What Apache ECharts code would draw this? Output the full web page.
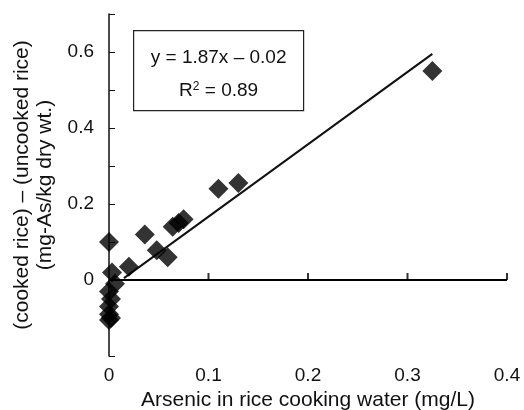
<!DOCTYPE html>
<html>
<head>
<meta charset="utf-8">
<script src="https://cdn.jsdelivr.net/npm/echarts@6/dist/echarts.min.js"></script>
<style>
  html, body { margin: 0; padding: 0; background: #fff; }
  #chart { width: 524px; height: 410px; }
</style>
</head>
<body>
<div id="chart"></div>
<script>
// arsenic in cooking water (mg/L)
const waterAs = [0, 0.003, 0.006, 0, 0.002, 0, 0, 0.002, 0, 0.02, 0.036, 0.048, 0.059, 0.064, 0.07, 0.075, 0.11, 0.13, 0.325];
// (cooked rice) - (uncooked rice), mg-As/kg dry wt.
const riceDiff = [0.1, 0.02, -0.01, -0.03, -0.05, -0.07, -0.09, -0.1, -0.105, 0.035, 0.12, 0.078, 0.06, 0.14, 0.15, 0.16, 0.24, 0.255, 0.55];
// regression line end points
const fitX = [0.015, 0.325];
const fitY = [0.005, 0.595];
const xTicks = [0, 0.1, 0.2, 0.3, 0.4];
const yLabels = ["0", "0.2", "0.4", "0.6"];
const eqText = "y = 1.87x \u2013 0.02";
const r2Text = "0.89";

const font = "Liberation Sans";
const chart = echarts.init(document.getElementById("chart"));

const points = waterAs.map((x, i) => [x, riceDiff[i]]);
const fitLine = fitX.map((x, i) => [x, fitY[i]]);
// the x axis line runs along y = 0
const zeroLine = xTicks.map(x => [x, 0]);
const zeroTicks = xTicks.slice(1).map(x => [x, 0]);

const option = {
  backgroundColor: "#fff",
  animation: false,
  textStyle: { fontFamily: font, color: "#111" },
  grid: { left: 109, right: 17, top: 14, bottom: 54, outerBoundsMode: "none" },
  xAxis: {
    type: "value",
    min: xTicks[0],
    max: xTicks[xTicks.length - 1],
    interval: 0.1,
    position: "bottom",
    axisLine: { show: false, onZero: false },
    axisTick: { show: false },
    splitLine: { show: false },
    axisLabel: {
      margin: 10,
      fontSize: 19,
      color: "#111",
      formatter: v => (v === 0 ? "0" : String(+v.toFixed(1)))
    },
    name: "Arsenic in rice cooking water (mg/L)",
    nameLocation: "middle",
    nameGap: 32,
    nameTextStyle: { fontSize: 21, color: "#111" }
  },
  yAxis: {
    type: "value",
    min: -0.2,
    max: 0.7,
    interval: 0.1,
    position: "left",
    axisLine: { show: true, onZero: false, lineStyle: { color: "#111", width: 1.5 } },
    axisTick: { show: true, inside: true, length: 6, lineStyle: { color: "#111" } },
    splitLine: { show: false },
    axisLabel: {
      margin: 15,
      fontSize: 19,
      color: "#111",
      formatter: v => {
        const r = Math.round(v * 10);
        if (r < 0 || r % 2 !== 0 || r > 6) return "";
        return yLabels[r / 2];
      }
    },
    name: "(cooked rice) \u2013 (uncooked rice)\n(mg-As/kg dry wt.)",
    nameLocation: "middle",
    nameRotate: 90,
    nameGap: 44,
    nameTextStyle: { fontSize: 21, color: "#111", lineHeight: 23 }
  },
  series: [
    {
      type: "line",
      data: fitLine,
      symbol: "none",
      lineStyle: { color: "#111", width: 2 },
      z: 2
    },
    {
      type: "scatter",
      data: points,
      symbol: "diamond",
      symbolSize: 20,
      itemStyle: { color: "#000" },
      z: 3
    },
    {
      type: "line",
      data: zeroLine,
      symbol: "none",
      silent: true,
      lineStyle: { color: "#000", width: 2 },
      z: 5
    },
    {
      type: "scatter",
      data: zeroTicks,
      symbol: "rect",
      symbolSize: [2, 7],
      symbolOffset: [0, -3.5],
      silent: true,
      itemStyle: { color: "#000" },
      z: 5
    }
  ],
  graphic: [
    {
      type: "group",
      left: 133,
      top: 30,
      children: [
        {
          type: "rect",
          shape: { x: 0, y: 0, width: 170, height: 80 },
          style: { fill: "#fff", stroke: "#222", lineWidth: 1.2 }
        },
        {
          type: "text",
          x: 85,
          y: 27,
          style: {
            text: eqText,
            font: "19px " + font,
            fill: "#111",
            align: "center",
            verticalAlign: "middle"
          }
        },
        {
          type: "text",
          x: 85,
          y: 60,
          style: {
            text: "{b|R}{s|2}{b| = " + r2Text + "}",
            align: "center",
            verticalAlign: "middle",
            rich: {
              b: { font: "19px " + font, fill: "#111", verticalAlign: "bottom" },
              s: { font: "12px " + font, fill: "#111", verticalAlign: "top", padding: [0, 0, 8, 0] }
            }
          }
        }
      ]
    }
  ]
};

chart.setOption(option);
</script>
</body>
</html>
